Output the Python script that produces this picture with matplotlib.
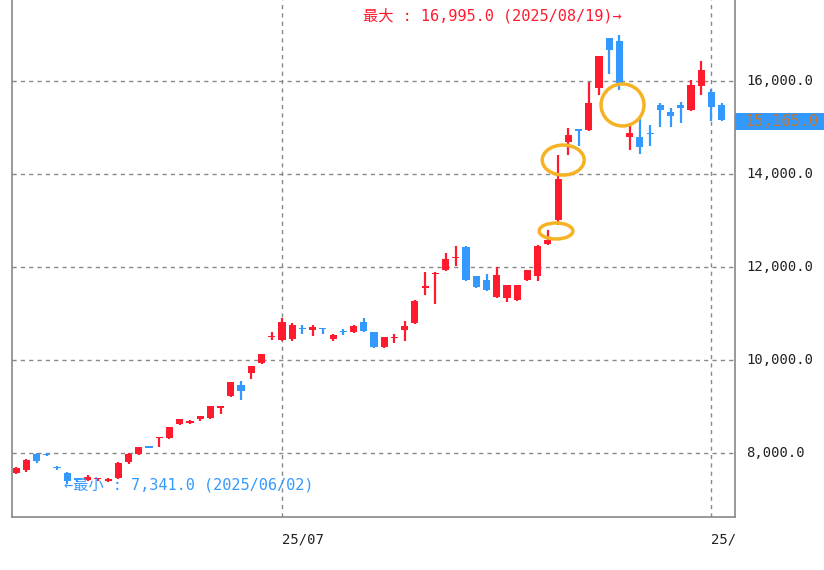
import matplotlib
matplotlib.use("Agg")
import matplotlib.pyplot as plt
import matplotlib.patches as mpatches
from matplotlib.transforms import Bbox, TransformedBbox

# OHLC (one candle per trading day, 2025/05/26 .. 2025/09/02)
opens = [7580, 7640, 7980, 7990, 7700, 7570, 7460, 7420, 7440, 7410,
         7470, 7800, 7980, 8140, 8330, 8320, 8630, 8650, 8730, 8760,
         8980, 9230, 9460, 9720, 9940, 10500, 10430, 10450, 10690, 10650,
         10680, 10460, 10620, 10600, 10820, 10600, 10280, 10470, 10650, 10800,
         11560, 11840, 11940, 12200, 12430, 11800, 11720, 11350, 11330, 11290,
         11720, 11810, 12500, 13010, 14690, 14960, 14950, 15850, 16920, 16850,
         14800, 14800, 14880, 15480, 15330, 15480, 15380, 15900, 15760, 15480]
highs = [7700, 7870, 8000, 8010, 7720, 7600, 7460, 7530, 7470, 7460,
         7800, 8000, 8130, 8160, 8350, 8560, 8730, 8720, 8800, 9010,
         9010, 9530, 9560, 9870, 10130, 10600, 10900, 10800, 10750, 10760,
         10700, 10560, 10660, 10760, 10900, 10600, 10500, 10560, 10830, 11300,
         11890, 11890, 12310, 12460, 12460, 11800, 11850, 12000, 11610, 11610,
         11940, 12480, 12800, 14400, 14990, 14960, 15970, 16540, 16920, 16995,
         15050, 15250, 15050, 15520, 15420, 15550, 16020, 16430, 15820, 15520]
lows = [7560, 7600, 7780, 7930, 7640, 7341, 7380, 7400, 7400, 7380,
        7450, 7760, 7960, 8100, 8130, 8300, 8600, 8620, 8700, 8740,
        8840, 9200, 9140, 9600, 9920, 10440, 10400, 10400, 10560, 10520,
        10550, 10400, 10540, 10580, 10600, 10260, 10250, 10360, 10420, 10780,
        11400, 11200, 11920, 12030, 11700, 11540, 11480, 11330, 11250, 11270,
        11700, 11700, 12480, 12900, 14400, 14600, 14930, 15690, 16160, 15800,
        14520, 14440, 14600, 15000, 15000, 15100, 15360, 15700, 15140, 15130]
closes = [7680, 7850, 7830, 7950, 7680, 7400, 7420, 7480, 7440, 7420,
          7790, 7980, 8130, 8120, 8350, 8560, 8730, 8700, 8800, 9010,
          9010, 9530, 9330, 9870, 10130, 10520, 10820, 10750, 10660, 10710,
          10660, 10540, 10610, 10730, 10620, 10280, 10500, 10480, 10730, 11270,
          11570, 11850, 12180, 12220, 11720, 11570, 11510, 11830, 11610, 11610,
          11940, 12450, 12580, 13900, 14840, 14920, 15530, 16540, 16660, 15960,
          14880, 14580, 14860, 15380, 15250, 15420, 15910, 16240, 15440, 15165]

y_ticks = [8000, 10000, 12000, 14000, 16000]
x_tick_idx = [26, 68]
x_tick_labels = ["25/07", "25/09"]
last_price = 15165
max_idx, max_val, max_date = 59, 16995, "2025/08/19"
min_idx, min_val, min_date = 5, 7341, "2025/06/02"

UP = "#ff1a2e"
DOWN = "#3399ff"
ORANGE = "#f5b324"
mono = ["DejaVu Sans Mono", "Noto Sans CJK JP"]

fig = plt.figure(figsize=(8.24, 5.70), dpi=100)
ax = fig.add_axes([12 / 824, 53 / 570, 723 / 824, 517 / 570])

for i, (o, h, l, c) in enumerate(zip(opens, highs, lows, closes)):
    col = UP if c >= o else DOWN
    ax.plot([i, i], [l, h], color=col, lw=1.6, solid_capstyle="butt", zorder=3)
    body = max(abs(c - o), 25)
    ax.add_patch(mpatches.Rectangle((i - 0.35, min(o, c)), 0.7, body,
                                    facecolor=col, edgecolor=col, lw=0, zorder=4))

ax.set_xlim(-0.4, 70.3)
ax.set_ylim(6626, 17741)

for y in y_ticks:
    ax.axhline(y, color="#888888", ls=(0, (3, 3)), lw=1, zorder=1)
for x in x_tick_idx:
    ax.axvline(x, color="#888888", ls=(0, (3, 3)), lw=1, zorder=1)

ax.set_xticks([])
ax.set_yticks([])
ax.spines["top"].set_visible(False)
for s in ["left", "bottom", "right"]:
    ax.spines[s].set_color("#888888")
    ax.spines[s].set_linewidth(1.2)

# axis labels (drawn as text to mimic the original layout)
for y in y_ticks:
    ax.text(1.015, (y - 6626) / (17741 - 6626), f"{y:,.1f}", transform=ax.transAxes,
            ha="left", va="center", fontsize=10, family=mono, color="#222222")
clip_box = TransformedBbox(Bbox([[0, 0], [735 / 824, 1]]), fig.transFigure)
for x, lab in zip(x_tick_idx, x_tick_labels):
    t = ax.text(x, 6626 - 330, lab, ha="left", va="top", fontsize=10, family=mono,
                color="#222222")
    t.set_clip_box(clip_box)
    t.set_clip_on(True)

# last price tag
fig.patches.append(mpatches.Rectangle((735 / 824, (570 - 130) / 570), 89 / 824, 17 / 570,
                                      transform=fig.transFigure, facecolor=DOWN,
                                      edgecolor="none"))
fig.text(745 / 824, (570 - 121.5) / 570, f"{last_price:,.1f}", ha="left", va="center",
         fontsize=11, family=mono, color="#c8782a")

# max / min labels
ax.text(max_idx + 0.2, max_val + 250, f"最大 : {max_val:,.1f} ({max_date})→", ha="right",
        va="bottom", fontsize=11, family=mono, color=UP)
ax.text(min_idx - 0.3, min_val - 30, f"←最小 : {min_val:,.1f} ({min_date})", ha="left",
        va="center", fontsize=11, family=mono, color=DOWN, zorder=6)

# highlight circles
for cx, cy, w, h in [(59.3, 15484, 4.2, 903), (53.5, 14300, 4.1, 645), (52.8, 12775, 3.3, 344)]:
    ax.add_patch(mpatches.Ellipse((cx, cy), w, h, fill=False, edgecolor=ORANGE, lw=2.5, zorder=6))

fig.savefig("out.png", dpi=100)
